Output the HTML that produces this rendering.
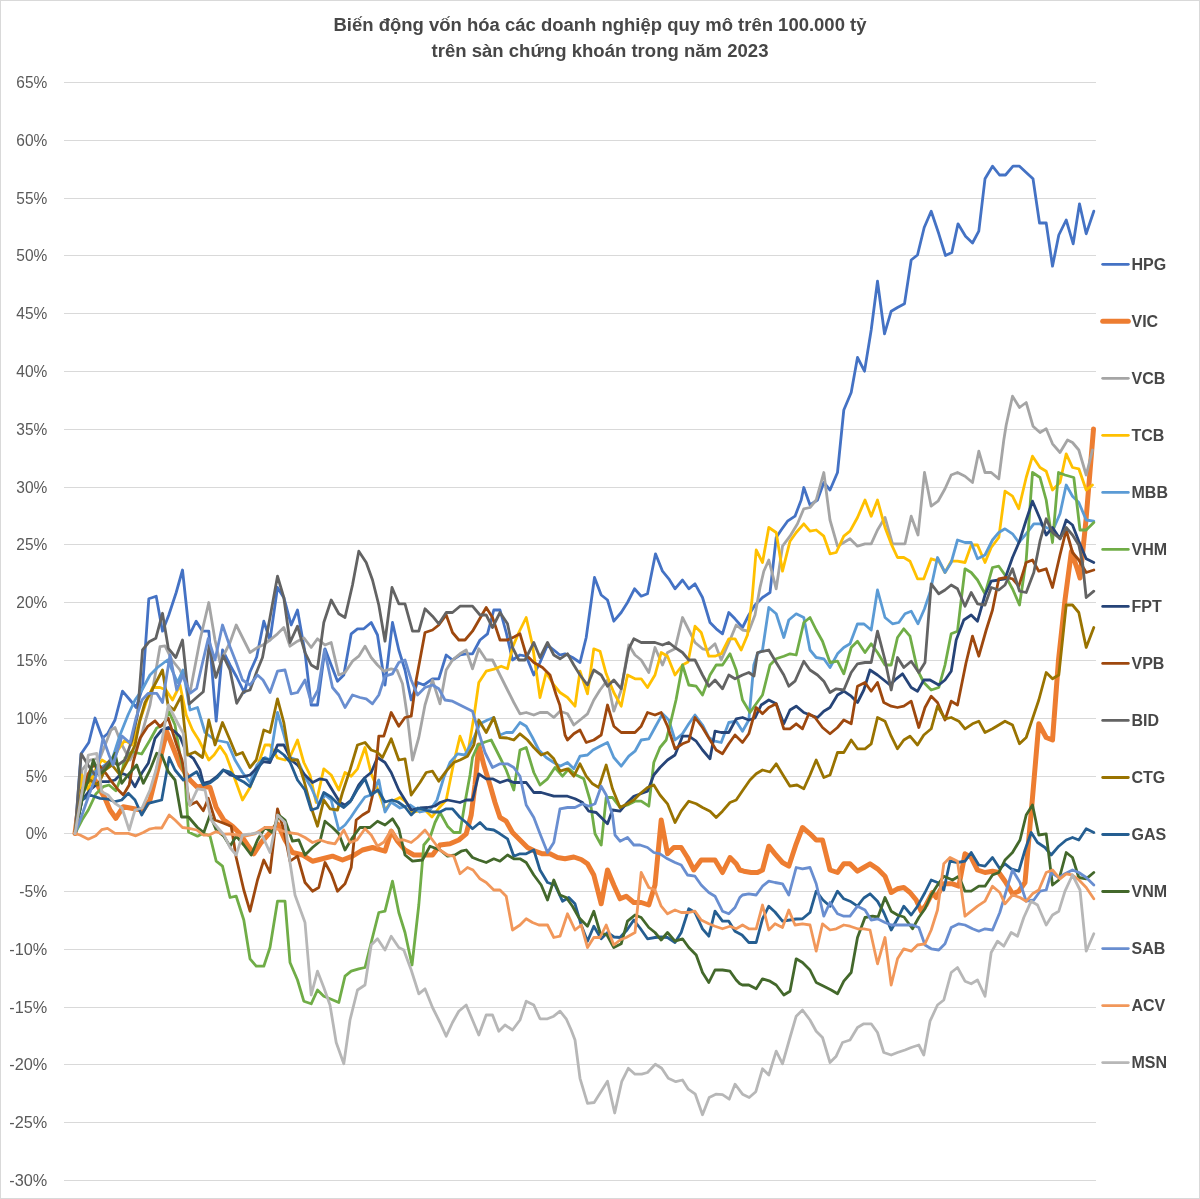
<!DOCTYPE html><html><head><meta charset="utf-8"><title>Biến động vốn hóa</title><style>html,body{margin:0;padding:0;background:#fff;}body{width:1200px;height:1199px;overflow:hidden;}svg{display:block;}</style></head><body>
<svg width="1200" height="1199" viewBox="0 0 1200 1199">
<rect x="0.5" y="0.5" width="1199" height="1198" fill="#fff" stroke="#d9d9d9" stroke-width="1"/>
<g font-family="Liberation Sans, Arial, sans-serif" font-weight="bold" fill="#474747" font-size="17.6">
<text x="333.5" y="30.8" textLength="533" lengthAdjust="spacingAndGlyphs">Biến động vốn hóa các doanh nghiệp quy mô trên 100.000 tỷ</text>
<text x="431.5" y="56.6" textLength="337" lengthAdjust="spacingAndGlyphs">trên sàn chứng khoán trong năm 2023</text>
</g>
<g stroke="#d9d9d9" stroke-width="1">
<line x1="64" x2="1096" y1="82.50" y2="82.50"/>
<line x1="64" x2="1096" y1="140.50" y2="140.50"/>
<line x1="64" x2="1096" y1="198.50" y2="198.50"/>
<line x1="64" x2="1096" y1="255.50" y2="255.50"/>
<line x1="64" x2="1096" y1="313.50" y2="313.50"/>
<line x1="64" x2="1096" y1="371.50" y2="371.50"/>
<line x1="64" x2="1096" y1="429.50" y2="429.50"/>
<line x1="64" x2="1096" y1="487.50" y2="487.50"/>
<line x1="64" x2="1096" y1="544.50" y2="544.50"/>
<line x1="64" x2="1096" y1="602.50" y2="602.50"/>
<line x1="64" x2="1096" y1="660.50" y2="660.50"/>
<line x1="64" x2="1096" y1="718.50" y2="718.50"/>
<line x1="64" x2="1096" y1="776.50" y2="776.50"/>
<line x1="64" x2="1096" y1="833.50" y2="833.50"/>
<line x1="64" x2="1096" y1="891.50" y2="891.50"/>
<line x1="64" x2="1096" y1="949.50" y2="949.50"/>
<line x1="64" x2="1096" y1="1007.50" y2="1007.50"/>
<line x1="64" x2="1096" y1="1064.50" y2="1064.50"/>
<line x1="64" x2="1096" y1="1122.50" y2="1122.50"/>
<line x1="64" x2="1096" y1="1180.50" y2="1180.50"/>
</g>
<g font-family="Liberation Sans, Arial, sans-serif" fill="#595959" font-size="16.6" text-anchor="end">
<text x="47.3" y="87.70" textLength="31" lengthAdjust="spacingAndGlyphs">65%</text>
<text x="47.3" y="145.70" textLength="31" lengthAdjust="spacingAndGlyphs">60%</text>
<text x="47.3" y="203.70" textLength="31" lengthAdjust="spacingAndGlyphs">55%</text>
<text x="47.3" y="260.70" textLength="31" lengthAdjust="spacingAndGlyphs">50%</text>
<text x="47.3" y="318.70" textLength="31" lengthAdjust="spacingAndGlyphs">45%</text>
<text x="47.3" y="376.70" textLength="31" lengthAdjust="spacingAndGlyphs">40%</text>
<text x="47.3" y="434.70" textLength="31" lengthAdjust="spacingAndGlyphs">35%</text>
<text x="47.3" y="492.70" textLength="31" lengthAdjust="spacingAndGlyphs">30%</text>
<text x="47.3" y="549.70" textLength="31" lengthAdjust="spacingAndGlyphs">25%</text>
<text x="47.3" y="607.70" textLength="31" lengthAdjust="spacingAndGlyphs">20%</text>
<text x="47.3" y="665.70" textLength="31" lengthAdjust="spacingAndGlyphs">15%</text>
<text x="47.3" y="723.70" textLength="31" lengthAdjust="spacingAndGlyphs">10%</text>
<text x="47.3" y="781.70" textLength="21.6" lengthAdjust="spacingAndGlyphs">5%</text>
<text x="47.3" y="838.70" textLength="21.6" lengthAdjust="spacingAndGlyphs">0%</text>
<text x="47.3" y="896.70" textLength="28" lengthAdjust="spacingAndGlyphs">-5%</text>
<text x="47.3" y="954.70" textLength="38" lengthAdjust="spacingAndGlyphs">-10%</text>
<text x="47.3" y="1012.70" textLength="38" lengthAdjust="spacingAndGlyphs">-15%</text>
<text x="47.3" y="1069.70" textLength="38" lengthAdjust="spacingAndGlyphs">-20%</text>
<text x="47.3" y="1127.70" textLength="38" lengthAdjust="spacingAndGlyphs">-25%</text>
<text x="47.3" y="1185.70" textLength="38" lengthAdjust="spacingAndGlyphs">-30%</text>
</g>
<g fill="none" stroke-linejoin="round" stroke-linecap="round">
<polyline stroke="#4472C4" stroke-width="2.8" points="75.0,833.6 81.0,754.0 88.8,742.5 95.0,718.0 102.5,738.0 107.5,733.8 115.0,720.0 122.5,691.2 130.0,700.0 136.2,707.5 142.5,687.5 148.8,598.8 156.2,596.2 162.5,631.2 168.8,615.0 176.2,592.5 182.5,570.0 189.5,635.0 196.2,621.2 202.5,631.2 208.8,631.2 216.2,721.2 222.5,650.0 230.0,665.0 236.7,677.0 244.2,692.5 250.0,672.0 256.7,657.0 263.8,621.2 270.0,640.0 277.5,587.5 284.0,598.0 291.2,625.0 297.5,610.0 305.0,652.5 311.2,705.0 317.5,705.0 325.0,648.8 331.2,665.0 337.5,681.2 343.8,675.0 351.2,633.8 357.5,628.8 363.8,628.8 371.2,622.5 377.5,635.0 385.0,685.0 392.5,622.5 398.8,650.0 405.0,670.0 411.2,700.0 417.5,682.5 423.8,685.0 432.5,678.8 438.8,678.8 446.2,655.0 452.5,660.0 460.0,655.0 466.2,653.8 472.5,653.8 480.0,640.0 487.5,633.8 493.8,610.0 500.0,610.0 506.2,632.5 512.5,660.0 520.0,655.0 526.2,656.2 533.8,675.0 540.0,662.5 547.5,645.0 553.8,650.0 559.8,655.0 565.0,653.8 572.5,657.5 580.0,662.5 586.2,637.5 594.5,577.5 601.2,595.0 607.5,600.0 613.8,621.2 621.2,612.5 627.5,602.5 634.5,588.8 641.2,596.2 647.5,593.8 655.5,553.8 662.5,571.2 668.8,578.8 675.0,588.8 682.5,580.0 688.8,588.8 695.0,583.8 702.5,597.5 710.0,622.5 716.2,628.8 722.5,633.8 728.8,612.5 735.0,618.8 742.5,627.5 748.8,615.0 755.0,605.0 762.5,597.5 770.0,592.5 776.2,537.5 781.2,530.0 787.5,521.2 795.0,516.2 801.2,500.0 803.8,487.5 810.0,505.0 817.5,500.0 823.8,482.5 830.0,490.0 837.5,472.5 843.8,410.0 851.2,392.5 857.5,357.5 864.5,371.2 871.2,330.0 877.5,281.2 884.5,333.8 891.2,311.2 897.5,307.5 904.5,303.8 911.2,260.0 917.5,255.0 924.2,227.5 931.2,211.2 938.8,233.8 945.5,255.5 951.8,252.5 958.0,223.8 965.5,236.2 972.5,243.0 978.8,231.2 985.0,178.8 992.5,166.2 999.5,175.0 1005.5,175.0 1013.0,166.2 1019.5,166.2 1026.2,172.5 1033.0,178.8 1039.5,223.0 1046.2,223.0 1052.5,266.2 1058.8,235.0 1066.2,220.0 1073.2,243.8 1079.5,203.8 1086.2,233.8 1093.8,211.2"/>
<polyline stroke="#ED7D31" stroke-width="5" points="75.0,833.6 81.5,785.0 88.0,775.0 95.0,780.0 100.0,790.0 105.0,798.3 110.0,810.0 115.8,818.3 123.3,806.7 130.0,808.0 136.7,809.2 143.0,810.0 150.0,800.0 158.3,766.7 166.7,731.7 172.0,745.0 180.0,765.0 190.0,780.0 197.0,787.0 203.0,786.0 210.0,787.5 216.2,807.5 223.8,820.0 232.5,826.2 240.0,833.8 247.5,845.0 253.8,853.8 261.2,842.5 268.8,833.8 277.5,823.8 285.0,840.0 292.5,852.5 302.5,855.0 312.5,861.2 322.5,858.8 332.5,856.2 342.5,860.0 352.5,856.2 362.5,850.0 372.5,847.5 385.0,851.2 391.2,831.2 397.5,841.2 405.0,850.0 413.8,855.0 422.5,855.0 432.5,855.0 440.0,845.0 450.0,843.8 458.8,840.0 466.2,833.8 471.2,815.0 475.0,785.0 478.8,745.0 483.8,765.0 490.0,785.0 495.0,802.5 500.0,817.5 506.2,821.2 512.5,832.5 520.0,840.0 527.5,847.5 535.0,851.2 542.5,853.8 550.0,853.8 557.5,857.5 565.0,858.8 573.8,857.0 581.2,859.5 587.5,863.8 593.8,875.0 601.2,903.8 607.5,870.0 613.8,885.0 620.0,898.8 626.2,896.2 633.8,902.5 641.2,902.5 648.8,905.0 655.0,885.0 661.2,820.0 667.5,853.8 673.8,847.5 681.2,847.5 687.5,857.5 693.8,870.0 701.2,860.0 708.8,860.0 715.0,860.0 722.5,872.5 730.0,857.5 736.2,863.8 739.8,870.0 743.8,871.2 751.2,872.5 757.5,872.5 762.5,870.0 768.8,846.2 775.0,853.8 782.5,862.5 788.8,866.2 796.2,843.8 802.5,827.5 810.0,833.8 816.2,840.0 822.5,840.0 830.0,870.0 837.5,872.5 843.8,863.8 850.0,863.8 857.5,871.2 863.8,867.5 870.0,863.8 877.5,868.8 885.0,876.2 891.2,892.5 897.5,888.8 903.8,887.5 910.0,892.5 916.2,900.0 921.2,911.2 926.0,905.0 932.5,892.5 936.2,897.5 943.8,883.8 952.5,883.8 958.8,886.2 965.0,853.8 971.2,857.5 977.5,870.0 985.0,872.5 992.5,871.2 998.8,872.5 1005.0,881.2 1012.5,893.8 1018.8,891.2 1025.0,882.5 1032.5,797.5 1038.8,723.8 1046.2,737.5 1052.5,740.0 1058.5,660.0 1065.0,600.0 1071.4,551.6 1077.3,569.0 1080.0,578.0 1086.0,520.0 1093.5,429.0"/>
<polyline stroke="#A5A5A5" stroke-width="2.8" points="75.0,833.6 82.0,770.0 90.0,760.0 100.0,758.0 111.0,730.0 115.0,727.5 122.0,745.0 130.0,760.0 140.0,740.0 150.0,705.0 160.0,646.7 165.0,645.8 172.0,660.0 180.0,670.0 190.0,692.5 200.0,640.0 208.8,602.5 215.0,640.0 220.0,662.5 230.0,642.5 236.2,625.0 242.5,637.5 250.0,652.5 257.5,647.5 263.0,645.0 270.0,640.0 277.5,633.8 283.8,627.5 290.0,646.2 297.5,641.2 304.0,638.0 311.2,647.5 317.5,638.8 325.0,645.0 331.2,642.5 338.8,675.0 345.0,672.5 352.5,661.2 358.8,656.2 365.0,646.2 371.2,657.5 377.5,665.0 383.8,671.2 391.2,668.8 397.0,670.0 402.5,683.8 407.5,717.5 412.5,760.0 418.8,737.5 425.0,705.0 432.5,680.0 440.0,703.8 446.2,670.0 452.5,660.0 460.0,653.8 466.2,650.0 472.5,668.8 478.8,648.8 486.2,660.0 492.5,660.0 500.0,675.0 507.5,690.0 513.8,702.5 520.0,713.8 526.2,712.5 533.8,715.0 540.0,712.5 547.5,712.5 553.8,717.5 560.0,711.2 567.5,713.8 573.8,725.0 580.0,720.0 587.5,713.8 593.8,700.0 600.0,690.0 607.5,680.0 613.8,711.2 621.2,690.0 628.8,645.0 635.0,655.0 641.2,660.0 648.8,672.5 655.0,647.5 662.5,665.0 667.5,652.5 675.0,648.8 682.5,617.5 688.8,630.0 695.0,642.5 702.5,648.8 708.0,650.0 715.0,643.8 721.2,660.0 730.0,640.0 736.2,625.0 742.5,630.0 748.8,631.2 755.0,615.0 760.0,587.5 763.8,571.2 768.8,560.0 776.2,588.8 782.5,546.2 790.0,536.2 797.5,523.8 803.8,508.8 810.0,507.5 816.2,500.0 823.8,472.5 830.0,520.0 837.5,546.2 843.8,542.5 850.0,538.8 857.5,546.2 865.0,543.8 871.2,543.8 877.5,530.0 885.0,517.5 892.5,543.8 898.8,543.8 905.0,543.8 911.2,516.2 918.0,535.0 924.5,472.5 931.2,506.2 938.0,501.2 945.0,488.8 951.2,475.0 957.5,472.5 965.0,476.2 972.5,482.5 978.8,451.2 985.0,472.5 991.2,472.5 998.8,478.8 1003.8,440.0 1006.2,425.0 1012.5,396.2 1019.5,407.5 1026.2,402.5 1033.0,426.2 1040.0,432.5 1046.2,428.8 1052.5,443.8 1060.0,452.5 1067.5,440.0 1072.5,442.5 1078.8,450.0 1086.2,475.0 1092.5,450.0"/>
<polyline stroke="#FFC000" stroke-width="2.8" points="75.0,833.6 82.0,775.0 88.0,790.0 95.0,770.0 102.0,760.0 110.0,765.0 118.0,750.0 125.0,740.0 132.0,745.0 140.0,720.0 147.0,700.0 152.5,687.5 160.0,687.5 166.0,690.0 172.5,700.0 180.0,685.0 186.2,715.0 192.5,730.0 198.8,740.0 208.8,760.0 214.0,755.0 220.0,746.2 226.0,755.0 232.5,772.5 242.5,800.0 250.0,787.5 256.0,770.0 265.0,745.0 270.0,745.0 277.5,758.0 285.0,760.0 290.0,757.0 297.5,740.0 303.8,762.5 310.0,775.0 316.2,802.5 323.8,768.8 331.2,775.0 338.8,790.0 345.0,772.5 351.2,776.2 357.5,768.8 365.0,747.5 371.2,773.8 378.0,790.0 385.0,810.0 391.0,802.0 400.0,797.5 406.0,802.0 412.5,812.5 419.0,811.0 425.0,810.0 432.0,817.0 439.0,808.0 446.2,800.0 453.8,762.5 460.0,736.2 467.5,755.0 473.8,717.5 478.8,682.5 486.2,671.2 495.0,668.8 501.2,666.2 507.5,668.8 512.5,647.5 518.8,632.5 526.2,617.5 532.5,645.0 540.0,697.5 546.2,672.5 553.8,685.0 560.0,692.5 567.5,697.5 575.0,706.2 580.0,671.2 587.5,693.8 593.8,648.8 600.0,651.2 606.2,673.8 613.8,692.5 621.2,706.2 627.5,675.0 635.0,678.8 641.2,678.8 647.5,687.5 655.0,675.0 661.2,652.5 667.5,656.2 675.0,675.0 682.5,665.0 688.0,662.0 695.0,626.2 701.2,632.5 708.8,656.2 715.0,656.2 721.2,653.8 728.8,638.8 735.0,638.8 741.2,650.0 747.5,635.0 752.0,600.0 756.2,550.0 762.5,562.5 768.8,527.5 776.2,532.5 782.5,571.2 790.0,541.2 796.2,532.5 803.8,523.8 810.0,531.2 816.2,530.0 823.8,536.2 830.0,553.8 836.2,552.5 843.8,536.2 850.0,531.2 857.5,517.5 865.0,500.0 871.2,516.2 877.5,500.0 885.0,527.5 891.2,543.8 897.5,557.5 903.8,557.5 910.0,561.2 917.5,578.8 923.8,578.8 931.2,558.8 938.8,561.2 945.0,572.5 951.2,561.2 957.5,561.2 965.0,562.5 971.2,545.0 977.5,545.0 985.0,562.5 991.2,547.5 998.8,537.5 1005.0,491.2 1012.5,496.2 1018.8,508.8 1026.2,477.5 1032.5,456.2 1040.0,467.5 1046.2,471.2 1052.5,490.0 1060.0,482.5 1066.2,453.8 1072.5,467.5 1078.8,468.8 1086.2,490.0 1092.5,485.0"/>
<polyline stroke="#5B9BD5" stroke-width="2.8" points="75.0,833.6 82.0,790.0 90.0,775.0 98.0,770.0 105.0,765.0 112.0,760.0 120.0,735.0 128.0,715.0 135.0,700.0 142.0,690.0 150.0,675.0 157.5,667.5 167.5,660.0 172.0,670.0 177.5,682.5 183.0,670.0 190.0,710.0 197.5,707.5 205.0,732.5 215.0,740.0 227.5,742.5 235.0,760.0 242.5,772.5 250.0,782.5 257.0,765.0 265.0,757.5 270.0,760.0 277.5,712.5 284.0,735.0 290.0,757.5 297.5,760.0 305.0,777.0 311.0,787.0 318.8,805.0 325.0,795.0 331.2,800.0 338.8,830.0 345.0,825.0 351.0,817.0 357.0,808.0 365.0,797.0 371.0,795.0 378.8,780.0 385.0,812.0 391.0,802.0 400.0,808.0 410.0,805.0 420.0,812.0 430.0,810.0 437.0,800.0 443.8,777.5 450.0,762.5 457.5,753.8 465.0,755.0 472.0,742.0 480.0,723.8 487.5,720.0 493.8,717.5 500.0,735.0 506.2,732.5 512.5,732.5 520.0,722.5 526.2,726.2 532.5,737.5 538.8,750.0 546.2,757.5 553.8,762.5 560.0,766.2 567.5,762.5 573.8,768.8 580.0,756.2 587.5,755.0 593.0,750.0 600.0,746.2 607.5,742.5 613.8,757.5 621.2,766.2 628.8,756.2 635.0,751.2 641.2,740.0 648.8,738.8 655.0,727.5 662.5,713.8 668.8,720.0 675.0,740.0 682.5,733.8 688.8,723.8 695.0,715.0 702.5,725.0 708.8,737.5 715.0,741.2 721.2,742.5 728.8,722.5 736.2,721.2 742.5,731.2 748.8,720.0 753.8,665.0 757.5,653.8 762.5,650.0 768.8,607.5 776.2,613.8 783.8,637.5 788.8,620.0 796.2,613.8 803.8,617.5 810.0,650.0 816.2,657.5 823.8,658.8 830.0,667.5 837.5,653.8 843.8,647.5 850.0,643.8 857.5,623.8 864.0,624.0 871.2,630.0 877.5,590.0 885.0,617.5 892.5,623.8 898.8,622.5 905.0,613.8 911.2,611.2 918.0,623.8 924.5,608.8 930.0,592.5 937.5,557.5 945.0,572.5 951.2,562.5 957.5,540.0 965.0,542.5 971.2,542.5 977.5,558.8 985.0,555.0 992.5,540.0 998.8,532.5 1005.0,528.8 1012.5,533.8 1018.8,542.5 1026.2,533.8 1033.8,523.8 1040.0,523.8 1046.2,527.5 1053.0,530.0 1060.0,513.8 1066.2,485.0 1072.5,496.2 1078.8,502.5 1086.2,520.0 1093.8,521.2"/>
<polyline stroke="#70AD47" stroke-width="2.8" points="75.0,833.6 82.0,820.0 88.3,810.0 95.8,794.0 103.3,786.7 109.0,785.0 115.8,790.8 120.0,780.0 125.0,758.0 131.7,751.7 141.7,754.0 150.0,740.0 156.7,728.0 163.3,725.0 169.0,711.7 175.0,725.0 180.0,755.0 185.0,778.0 188.5,832.0 197.5,836.2 203.3,833.3 210.0,836.0 216.2,861.2 222.5,866.2 230.0,897.5 236.2,896.2 243.8,920.0 250.0,958.8 256.2,966.2 263.8,966.2 270.0,947.5 277.5,901.2 285.0,901.2 290.0,962.5 297.5,980.0 303.8,1001.2 311.2,1003.8 317.5,990.0 323.8,996.2 330.0,998.8 338.8,1002.5 345.0,976.2 351.2,971.2 358.8,968.8 365.0,967.5 371.2,942.5 378.8,912.5 385.0,911.2 392.5,881.2 398.8,912.5 405.0,932.5 412.0,965.0 418.8,905.0 423.8,845.0 430.0,837.5 435.0,822.5 440.0,812.5 447.5,826.2 453.8,832.5 460.0,832.5 465.0,802.5 470.0,775.0 472.5,757.5 478.0,745.0 485.0,742.0 491.2,740.0 500.0,757.5 506.2,770.0 513.8,790.0 520.0,750.0 526.2,747.5 533.8,772.5 540.0,785.0 547.5,778.8 555.0,767.5 562.5,776.2 568.8,768.8 576.2,775.0 583.8,778.8 590.0,800.0 595.0,833.8 601.2,845.0 606.2,797.5 612.5,797.5 620.0,807.5 627.5,805.0 635.0,801.2 641.2,801.2 648.8,806.2 653.8,762.5 660.0,747.5 666.2,740.0 670.0,725.0 676.0,700.0 682.5,665.0 688.8,685.0 696.2,686.2 702.5,695.0 710.0,675.0 716.2,665.0 722.5,665.0 730.0,653.8 736.2,670.0 742.5,700.0 750.0,712.5 756.2,703.8 762.5,695.0 770.0,665.0 776.2,658.8 783.8,656.2 790.0,653.8 796.2,655.0 803.8,622.5 810.0,617.5 816.2,630.0 822.5,641.2 830.0,662.5 837.5,661.2 843.8,673.8 851.2,647.5 857.5,641.2 865.0,652.5 871.2,643.8 877.5,652.5 885.0,665.0 891.2,665.0 897.5,637.5 903.8,628.8 910.0,636.2 917.5,670.0 923.8,682.5 931.2,690.0 938.8,687.5 945.0,665.0 951.2,633.8 957.5,631.2 961.2,600.0 965.0,568.8 971.2,572.5 977.5,580.0 985.0,593.8 992.5,567.5 998.8,566.2 1005.0,575.0 1012.5,588.8 1019.5,605.0 1026.2,560.0 1032.5,472.5 1040.0,477.5 1046.2,500.0 1052.5,542.5 1058.5,472.5 1065.0,475.0 1073.8,477.5 1080.0,530.0 1086.2,530.0 1093.8,522.5"/>
<polyline stroke="#264478" stroke-width="2.8" points="75.0,833.6 82.0,800.0 90.0,790.0 100.0,781.7 108.3,781.7 115.0,780.0 121.7,773.3 128.3,775.8 135.0,786.7 141.7,773.3 148.3,763.3 155.0,738.3 161.7,730.0 168.3,727.5 175.0,731.7 180.0,736.7 186.7,753.3 193.3,758.3 200.0,770.0 203.3,783.3 210.0,781.7 216.7,776.7 223.3,770.0 230.0,775.0 236.7,776.7 243.3,776.7 250.0,775.0 256.7,768.3 263.3,761.7 270.0,762.5 277.5,745.0 283.8,745.0 291.2,760.0 297.5,765.0 305.0,775.0 312.5,782.5 320.0,778.8 326.2,780.0 333.8,792.5 340.0,802.5 345.0,805.0 351.2,800.0 358.8,785.0 365.0,777.5 371.2,772.5 377.5,757.5 385.0,762.5 391.2,772.5 398.8,790.0 405.0,800.0 411.2,810.0 420.0,808.0 427.5,807.5 435.0,806.0 440.0,802.5 447.5,800.0 460.0,802.5 466.2,800.0 472.5,800.0 478.8,773.8 486.2,778.8 492.5,778.8 500.0,782.5 507.5,780.0 513.8,782.5 526.2,782.5 533.8,792.5 541.2,792.5 553.8,796.2 567.5,796.2 575.0,798.8 582.5,802.5 588.8,811.2 596.2,812.5 607.5,823.8 612.5,810.0 620.0,811.2 626.2,803.8 633.8,796.2 647.5,791.2 653.8,775.0 660.0,767.5 667.5,760.0 675.0,755.0 682.5,736.2 688.8,736.2 696.2,741.2 702.5,750.0 710.0,758.8 715.0,731.2 721.2,732.5 728.8,732.5 736.2,718.8 742.5,717.5 748.8,720.0 755.0,718.0 761.2,705.0 768.8,700.0 776.2,703.8 783.8,723.8 790.0,710.0 796.2,706.2 803.8,712.5 810.0,715.0 817.5,717.5 823.8,711.2 830.0,707.5 837.5,695.0 843.8,691.2 851.2,696.2 857.5,702.5 863.8,690.0 870.0,670.0 877.5,675.0 883.8,680.0 890.0,685.0 896.2,678.8 902.5,673.8 911.2,687.5 917.5,691.2 923.8,680.0 930.0,680.0 938.8,685.0 945.0,680.0 951.2,671.2 956.2,640.0 963.8,620.0 971.2,615.0 977.5,621.2 985.0,595.0 991.2,581.2 998.8,580.0 1005.0,578.8 1012.5,557.5 1019.5,541.2 1026.2,520.0 1032.5,501.2 1040.0,518.8 1046.2,535.0 1052.5,527.5 1060.0,538.8 1066.2,520.0 1072.5,525.0 1078.8,541.2 1086.2,558.8 1093.8,562.5"/>
<polyline stroke="#9E480E" stroke-width="2.8" points="75.0,833.6 82.0,790.0 88.0,775.0 91.7,766.7 99.2,765.0 105.8,773.3 111.7,781.7 118.3,790.0 123.3,795.0 129.2,785.0 133.3,761.7 140.0,738.3 147.5,726.7 155.0,720.8 160.0,726.7 168.3,718.3 176.7,745.0 182.0,760.0 190.0,805.0 196.7,801.7 203.3,810.8 208.3,798.3 215.0,820.0 223.0,823.0 231.2,826.2 236.2,857.5 243.8,890.0 250.0,911.2 257.5,880.0 263.8,860.0 270.0,872.5 277.5,808.8 283.8,830.0 290.0,861.2 297.5,856.2 305.0,882.5 312.5,891.2 318.8,887.5 325.0,862.5 331.2,873.8 337.5,891.2 345.0,883.8 351.2,867.5 356.2,820.0 362.5,815.0 368.8,811.2 373.8,790.0 378.8,736.2 383.8,736.2 391.2,712.5 398.8,726.2 405.0,717.5 411.2,716.2 416.2,680.0 425.0,632.5 432.5,630.0 438.8,625.0 446.2,615.0 452.5,632.5 458.8,640.0 465.0,640.0 472.5,631.2 479.0,620.0 486.2,607.5 492.5,617.5 500.0,640.0 507.5,640.0 514.0,637.0 520.0,633.8 526.2,655.0 533.8,662.5 542.5,667.5 550.0,675.0 556.2,695.0 559.8,705.0 565.0,735.0 567.5,740.0 573.8,733.8 580.0,730.0 586.2,742.5 593.8,740.0 601.2,735.0 607.5,705.0 613.8,726.2 621.2,732.5 628.8,732.5 635.0,732.5 641.2,726.2 647.5,712.5 655.0,715.0 661.2,712.5 667.5,726.2 675.0,748.8 682.5,743.8 688.8,741.2 695.0,717.5 702.5,727.5 710.0,740.0 716.2,750.0 722.5,753.8 728.8,743.8 735.0,735.0 742.5,742.5 748.8,733.8 756.2,707.5 762.5,713.8 768.8,707.5 776.2,703.8 783.8,728.8 790.0,728.8 796.2,723.8 802.5,728.8 808.8,713.8 815.0,717.5 822.5,727.5 830.0,733.8 837.5,727.5 843.8,720.0 851.2,723.8 857.5,686.2 865.0,682.5 871.2,691.2 877.5,682.5 883.8,702.5 891.2,706.2 897.5,707.5 903.8,706.2 911.2,701.2 918.8,727.5 925.0,707.5 931.2,696.2 937.5,702.5 945.0,720.0 951.2,701.2 957.5,705.0 966.0,663.0 972.5,636.2 978.8,656.2 986.2,630.0 992.5,610.0 998.8,578.8 1006.2,577.5 1012.5,578.8 1018.8,586.2 1026.2,562.5 1032.5,560.0 1038.8,571.2 1046.2,568.8 1052.5,587.5 1060.0,555.0 1066.2,530.0 1072.5,552.5 1078.8,560.0 1086.2,572.5 1093.8,570.0"/>
<polyline stroke="#636363" stroke-width="2.8" points="75.0,833.6 81.2,753.8 88.0,765.0 95.0,775.0 102.0,770.0 110.0,760.0 118.0,765.0 125.0,760.0 132.0,740.0 137.5,715.0 142.5,650.0 149.2,641.7 155.8,638.3 162.5,613.3 168.3,648.3 175.8,657.5 182.5,640.0 189.2,704.0 196.0,698.0 203.3,691.7 209.2,645.0 215.8,677.5 223.3,655.8 230.0,670.0 236.7,703.3 243.3,692.0 250.0,690.0 256.7,671.7 262.5,657.5 270.0,617.5 277.5,576.2 283.8,597.5 290.0,642.5 297.5,626.2 305.0,652.5 311.2,665.0 317.5,668.8 323.8,622.5 331.2,600.0 338.8,613.8 345.0,617.5 352.5,585.0 358.8,551.2 366.2,562.5 372.5,580.0 378.8,605.0 385.0,641.2 392.0,587.5 398.8,603.8 405.0,603.8 412.5,631.2 418.8,631.2 425.0,608.8 432.5,616.2 438.8,623.8 446.2,612.5 452.5,612.5 460.0,606.2 467.5,606.2 472.5,606.2 480.0,615.0 486.2,615.0 492.5,627.5 500.0,612.5 507.5,623.8 512.5,647.5 518.8,660.0 525.0,660.0 533.8,642.5 540.0,657.5 547.5,642.5 553.8,655.0 560.0,658.8 567.5,653.8 573.8,665.0 580.0,675.0 587.5,685.0 593.8,670.0 601.2,675.0 607.5,686.2 613.8,680.0 621.2,688.8 628.8,648.8 633.8,638.8 641.2,642.5 648.8,642.5 655.0,642.5 662.5,645.0 668.8,642.5 675.0,647.5 682.5,652.5 688.8,660.0 695.0,660.0 702.5,675.0 708.8,686.2 715.0,680.0 722.5,688.8 728.8,675.0 735.0,678.8 742.5,675.0 748.8,672.5 754.0,676.0 757.5,652.5 763.8,651.2 768.8,650.0 776.2,662.5 783.8,675.0 788.8,686.2 795.0,681.2 803.8,661.2 810.0,670.0 817.5,675.0 823.8,681.2 830.0,692.5 836.2,688.8 843.8,690.0 851.2,672.5 857.5,663.8 865.0,662.5 871.2,662.5 877.5,631.2 885.0,660.0 891.2,690.0 897.5,657.5 903.8,667.5 911.2,661.2 918.8,672.5 925.0,662.5 931.2,583.8 938.8,593.8 945.0,590.0 951.2,585.0 957.5,588.8 965.0,606.2 971.2,592.5 977.5,603.8 985.0,605.0 991.2,587.5 998.8,590.0 1005.0,585.0 1012.5,568.8 1019.5,591.2 1026.2,592.5 1033.8,572.5 1040.0,541.2 1046.2,518.8 1052.5,532.5 1060.0,538.8 1066.2,527.5 1072.5,535.0 1078.8,545.0 1082.5,562.5 1086.2,597.5 1093.8,591.2"/>
<polyline stroke="#997300" stroke-width="2.8" points="75.0,833.6 82.0,790.0 90.0,780.0 98.0,785.0 105.0,770.0 112.0,765.0 120.0,775.0 128.0,760.0 135.0,745.0 140.0,720.0 145.0,702.5 152.0,690.0 162.5,670.0 168.0,705.0 174.0,710.0 181.2,696.2 187.5,755.0 195.0,752.0 202.5,757.5 208.8,720.0 215.0,745.0 222.5,722.5 230.0,740.0 236.2,755.0 242.5,752.5 250.0,767.5 256.2,760.0 263.8,730.0 270.0,732.5 277.5,698.8 283.8,722.5 290.0,760.0 297.5,760.0 303.8,780.0 311.2,807.5 317.5,826.2 323.8,800.0 330.0,808.8 337.5,810.0 342.5,792.5 350.0,770.0 357.5,745.0 365.0,742.5 371.2,750.0 377.0,752.0 382.5,757.5 391.2,738.8 398.8,760.0 405.0,758.8 411.2,795.0 420.0,782.5 426.2,772.5 432.5,771.2 438.8,781.2 446.2,771.2 453.8,762.5 460.0,760.0 467.5,756.2 473.8,745.0 478.8,720.0 486.2,732.5 493.8,717.5 500.0,737.5 507.0,738.0 513.8,740.0 520.0,733.8 527.5,740.0 533.8,747.5 541.2,755.0 547.5,752.5 553.8,758.8 560.0,771.2 567.5,768.8 573.8,776.2 580.0,763.8 586.2,776.2 592.5,783.8 598.8,787.5 606.2,765.0 612.5,788.8 620.0,807.5 627.5,803.8 633.8,800.0 640.0,793.8 647.5,787.5 653.8,785.0 660.0,795.0 667.5,803.8 675.0,822.5 681.2,811.2 688.8,801.2 696.2,803.8 702.5,807.5 710.0,811.2 716.2,817.5 722.5,811.2 730.0,802.5 736.2,800.0 743.0,790.0 750.0,780.0 756.2,773.8 762.5,770.0 770.0,772.0 776.2,763.8 783.0,775.0 790.0,786.2 797.0,785.0 803.8,788.8 810.0,775.0 816.2,760.0 823.8,777.5 830.0,775.0 837.5,752.5 843.8,752.5 851.2,740.0 857.5,748.8 865.0,748.8 871.2,743.8 877.5,717.5 885.0,721.2 891.2,736.2 897.5,748.8 903.8,740.0 910.0,736.2 917.5,745.0 923.8,735.0 931.2,728.8 937.5,706.2 945.0,718.8 951.2,717.5 958.8,721.2 965.0,728.8 972.5,723.8 978.8,721.2 985.0,732.5 992.5,728.8 998.8,725.0 1005.0,721.2 1012.5,725.0 1019.5,743.8 1026.2,737.5 1032.5,718.8 1038.8,700.0 1046.2,672.5 1052.5,678.8 1058.8,675.0 1066.2,605.0 1072.5,605.0 1078.8,612.5 1086.2,647.5 1093.8,627.5"/>
<polyline stroke="#255E91" stroke-width="2.8" points="75.0,833.6 82.0,800.0 90.0,795.0 100.0,798.3 108.3,799.2 115.0,801.7 121.7,800.0 128.3,793.3 135.0,800.0 141.7,815.0 148.3,803.3 155.0,801.7 161.7,800.0 169.2,757.5 175.0,770.0 183.3,780.0 190.0,776.0 196.7,771.7 203.3,785.0 210.0,783.0 216.7,778.0 223.3,770.0 230.0,772.0 236.7,778.3 243.3,781.7 250.0,786.7 256.7,772.0 263.3,758.3 270.0,760.0 277.5,750.0 284.0,755.0 290.0,762.0 297.5,780.0 305.0,790.0 311.2,810.0 317.5,808.0 323.8,792.5 331.0,797.0 337.0,803.0 343.8,807.5 350.0,802.0 357.0,790.0 365.0,778.8 371.0,795.0 378.0,790.0 385.0,802.0 392.0,800.0 398.0,802.0 405.0,807.0 411.2,815.0 418.0,808.0 425.0,810.0 432.0,812.0 440.0,812.0 446.2,808.8 452.5,808.8 460.0,817.5 466.2,822.5 472.5,828.8 480.0,822.5 486.2,828.8 493.8,830.0 500.0,833.8 507.5,838.8 513.8,856.2 520.0,853.8 526.2,853.8 533.8,850.0 540.0,870.0 547.5,882.5 555.0,885.0 562.5,901.2 568.8,897.5 575.0,903.8 581.2,925.0 587.5,941.2 593.8,926.2 601.2,938.8 607.5,932.5 614.0,937.0 620.0,937.5 627.0,930.0 633.8,920.0 640.0,928.0 647.5,938.8 655.0,937.5 661.0,937.0 667.5,937.5 675.0,942.5 681.2,932.5 688.8,908.8 695.0,912.5 702.5,928.8 708.8,936.2 715.0,911.2 722.5,921.2 728.8,921.2 735.0,931.2 742.0,935.0 748.8,942.5 756.2,942.5 762.5,918.8 768.8,906.2 775.0,912.0 782.5,921.2 790.0,920.0 796.0,919.0 802.5,918.8 810.0,912.5 816.2,891.2 823.0,900.0 830.0,906.2 837.5,891.2 843.8,898.8 850.0,901.2 857.5,906.2 863.8,898.0 870.0,893.8 877.5,901.2 883.8,912.5 891.2,930.0 897.5,918.8 903.8,906.2 911.2,915.0 917.5,906.2 925.0,892.5 931.2,880.0 937.5,882.5 943.8,890.0 950.0,861.2 957.5,862.5 965.0,861.2 971.2,852.5 978.8,865.0 985.0,866.2 992.5,857.5 999.8,868.8 1005.0,863.8 1011.2,868.8 1018.8,871.2 1025.0,850.0 1031.2,832.5 1037.5,842.5 1045.0,847.5 1051.2,855.0 1058.8,846.2 1066.2,840.0 1072.5,837.5 1078.8,840.0 1086.2,828.8 1093.8,832.5"/>
<polyline stroke="#43682B" stroke-width="2.8" points="75.0,833.6 83.3,793.3 88.3,780.0 93.3,760.0 99.2,775.0 105.0,770.0 110.0,763.3 115.0,753.3 121.7,783.3 128.0,775.0 136.7,765.0 143.3,783.3 150.0,770.0 156.7,753.3 161.7,755.0 168.3,771.7 175.0,780.0 181.5,817.0 188.5,817.0 197.5,827.5 203.8,832.5 210.0,815.0 216.2,830.0 223.8,836.2 230.0,846.2 236.2,836.2 243.8,845.0 251.2,855.0 257.5,840.0 265.0,827.5 272.5,832.5 278.8,815.0 285.0,820.0 292.5,841.2 298.8,840.0 305.0,855.0 312.5,847.5 320.0,841.2 325.0,821.2 332.5,827.5 338.8,833.8 345.0,850.0 352.5,837.5 360.0,827.5 370.0,827.5 377.5,821.2 385.0,825.0 392.5,818.8 398.8,828.8 405.0,855.0 412.5,861.2 422.5,860.0 430.0,846.2 440.0,850.0 447.5,856.2 455.0,855.0 461.2,851.2 466.2,850.0 472.5,857.5 478.8,860.0 486.2,862.5 493.8,858.8 500.0,861.2 507.5,855.0 513.8,858.8 520.0,858.8 526.2,862.5 533.8,875.0 541.2,885.0 547.5,900.0 553.8,880.0 560.0,895.0 566.2,897.5 572.5,906.2 578.8,917.5 587.5,926.2 593.8,911.2 600.0,932.5 607.0,935.0 613.8,947.5 621.2,943.8 627.5,921.2 635.0,915.0 641.2,917.5 648.8,927.5 655.0,932.5 661.2,940.0 667.5,932.5 675.0,941.2 682.5,938.8 688.8,947.5 696.2,955.0 702.5,972.5 708.8,982.5 715.0,970.0 722.5,970.0 730.0,971.2 736.2,980.0 739.8,983.8 742.5,985.0 748.8,985.0 756.2,988.8 762.5,978.8 770.0,981.2 776.2,985.0 783.8,995.0 790.0,991.2 796.2,958.8 802.5,962.5 810.0,970.0 816.2,982.5 823.8,986.2 831.2,990.0 837.5,993.8 843.8,981.2 851.2,972.5 857.5,937.5 865.0,917.5 872.5,916.2 878.0,917.0 885.0,897.5 891.2,911.2 897.5,915.0 904.0,917.0 912.5,928.8 918.8,917.5 925.0,908.8 931.2,895.0 937.5,885.0 943.8,876.2 952.5,880.0 958.8,876.2 965.0,891.2 971.2,891.2 978.8,886.2 985.0,886.2 992.5,875.0 998.8,872.5 1005.0,860.0 1012.5,852.5 1020.0,840.0 1026.2,815.0 1032.5,805.0 1038.8,835.0 1046.2,833.8 1052.5,885.0 1058.8,880.0 1066.2,852.5 1072.5,857.5 1078.8,877.5 1086.2,878.8 1093.8,872.5"/>
<polyline stroke="#698ED0" stroke-width="2.8" points="75.0,833.6 82.0,815.0 89.0,795.0 96.0,776.0 103.0,738.0 109.0,755.0 113.0,765.0 122.0,736.0 130.0,743.0 136.0,718.0 142.0,700.0 148.3,693.3 156.7,693.3 162.5,702.5 170.0,655.0 176.7,690.0 183.0,675.0 190.0,693.3 196.7,688.3 202.0,665.0 208.3,638.3 215.0,660.0 222.5,625.0 230.0,646.7 236.2,662.5 242.5,680.0 250.0,685.0 257.5,675.0 263.0,680.0 270.0,692.5 277.5,671.2 285.0,670.0 291.2,693.8 297.5,692.5 305.0,680.0 311.2,702.5 318.0,690.0 324.5,650.0 332.5,687.5 338.8,695.0 345.0,707.5 352.5,695.0 360.0,697.5 366.2,698.8 372.5,703.8 378.8,695.0 385.0,676.2 392.5,673.8 398.8,662.5 405.0,660.0 411.2,680.0 417.5,695.0 425.0,687.5 432.5,685.0 438.8,688.8 445.0,700.0 452.5,701.2 460.0,705.0 466.0,708.0 472.5,711.2 478.8,732.5 485.0,752.5 492.5,767.5 500.0,763.8 507.5,763.8 513.8,767.5 520.0,776.2 526.2,805.0 533.8,817.5 540.0,833.8 547.5,852.5 553.8,842.5 560.0,808.8 567.5,807.5 575.0,807.5 582.5,803.8 588.8,806.2 595.0,803.8 601.2,786.2 606.2,795.0 612.5,815.0 615.0,835.0 620.0,841.2 627.5,837.5 633.8,845.0 640.0,845.0 647.5,847.5 653.8,852.5 660.0,853.8 667.5,858.8 675.0,862.5 681.2,865.0 687.5,875.0 695.0,876.2 701.2,885.0 708.8,892.5 715.0,896.2 722.5,911.2 728.8,913.8 735.0,907.5 739.8,897.5 742.5,895.0 748.8,893.8 756.2,895.0 762.5,886.2 768.8,881.2 775.0,882.5 782.5,883.8 788.8,895.0 796.2,867.5 802.5,868.8 810.0,867.5 816.2,883.8 823.8,916.2 830.0,902.5 837.5,913.8 843.8,916.2 850.0,916.2 857.5,906.2 865.0,910.0 871.2,920.0 877.5,918.8 885.0,922.5 891.2,925.0 897.5,925.0 905.0,925.0 912.5,925.0 918.8,927.5 925.0,945.0 931.2,948.8 938.8,950.0 945.0,943.8 951.2,927.5 958.8,923.8 965.0,925.0 972.5,928.8 978.8,931.2 985.0,928.8 992.5,930.0 999.8,912.5 1005.0,895.0 1012.5,870.0 1020.0,882.5 1026.2,901.2 1033.8,900.0 1040.0,891.2 1046.2,890.0 1051.2,872.5 1058.8,877.5 1065.0,873.8 1072.5,870.0 1078.8,872.5 1086.2,877.5 1093.8,885.0"/>
<polyline stroke="#F1975A" stroke-width="2.8" points="74.2,833.3 80.0,835.0 88.3,839.2 95.8,835.8 101.7,829.7 107.5,828.3 115.0,833.3 121.7,833.3 128.3,833.3 135.8,835.8 143.3,832.5 149.2,829.2 155.0,828.0 161.7,828.0 169.2,815.0 175.0,820.0 182.5,827.5 189.2,828.3 196.7,830.0 203.3,835.0 209.2,835.0 215.8,831.7 223.3,834.2 230.0,834.0 237.0,835.0 245.0,836.2 255.0,833.8 265.0,827.5 272.5,827.5 280.0,830.0 287.5,832.5 297.5,833.8 305.0,837.5 312.5,842.5 320.0,840.0 327.5,842.5 335.0,843.8 343.8,830.0 350.0,842.5 357.0,840.0 365.0,828.8 371.2,835.0 377.5,846.2 384.0,842.0 391.2,830.0 397.5,840.0 404.0,840.0 411.2,842.5 417.5,837.5 425.0,830.0 432.5,840.0 440.0,850.0 447.5,855.0 453.8,856.2 460.0,873.8 467.5,867.5 473.0,870.0 480.0,878.8 486.2,882.5 493.8,890.0 500.0,890.0 506.2,896.2 512.5,930.0 520.0,925.0 526.2,918.8 532.5,922.5 538.8,925.0 547.5,925.0 553.8,937.5 560.0,936.2 567.5,913.8 575.0,930.0 581.2,925.0 587.5,947.5 593.8,937.5 600.0,937.5 606.2,925.0 613.8,945.0 620.0,940.0 626.2,937.5 635.0,932.5 641.2,872.5 648.8,887.5 655.0,890.0 661.2,906.2 667.5,913.8 675.0,910.0 681.2,912.5 688.8,912.5 695.0,911.2 701.2,920.0 708.8,923.8 715.0,926.2 722.5,928.8 730.0,926.2 736.2,928.8 742.5,925.0 748.8,928.8 756.2,928.8 762.5,905.0 768.8,930.0 775.0,923.8 782.5,927.5 788.8,910.0 795.0,925.0 802.5,923.8 810.0,925.0 816.2,951.2 822.5,923.8 830.0,930.0 836.2,928.8 843.8,925.0 850.0,926.2 857.5,928.8 863.8,928.8 870.0,930.0 877.5,963.8 885.0,937.5 891.2,985.0 897.5,958.8 903.8,948.8 911.2,951.2 917.5,945.0 925.0,943.8 931.2,930.0 937.5,910.0 943.8,863.8 950.0,857.5 957.5,861.2 965.0,916.2 971.2,911.2 977.5,906.2 985.0,901.2 992.5,886.2 999.8,892.5 1005.0,903.8 1012.5,895.0 1020.0,897.5 1026.2,901.2 1032.5,893.8 1038.8,890.0 1046.2,872.5 1052.5,870.0 1060.0,878.8 1066.2,873.8 1072.5,875.0 1079.0,880.0 1086.2,887.5 1093.8,898.8"/>
<polyline stroke="#B7B7B7" stroke-width="2.8" points="75.0,833.6 81.0,798.0 88.3,755.0 96.7,753.3 101.7,791.7 108.0,795.0 115.0,803.3 122.0,808.0 129.2,830.0 135.0,810.0 142.0,808.0 150.0,790.0 156.0,770.0 162.0,740.0 168.3,705.0 175.0,718.0 183.3,733.3 188.3,800.0 190.0,805.0 197.5,788.8 205.0,790.0 211.2,820.0 217.5,827.5 224.0,835.0 230.0,847.5 236.2,855.0 242.5,835.0 251.2,833.8 258.8,832.5 262.5,836.2 270.0,852.5 277.5,815.0 285.0,822.5 290.0,862.5 295.0,895.0 305.0,922.5 311.2,995.0 317.5,971.2 323.8,987.5 330.0,1005.0 336.2,1042.5 343.8,1063.8 350.0,1020.0 357.5,990.0 365.0,985.0 371.2,945.0 377.5,938.8 385.0,950.0 391.2,936.2 398.8,947.5 403.8,950.0 411.2,970.0 418.8,993.8 425.0,988.8 432.5,1007.5 440.0,1022.5 446.2,1036.2 452.5,1022.5 458.8,1011.2 466.2,1005.0 472.5,1020.0 478.8,1035.0 486.2,1015.0 492.5,1015.0 498.8,1031.2 505.0,1025.0 512.5,1030.0 520.0,1020.0 526.2,1001.2 533.8,1005.0 540.0,1018.8 547.5,1018.8 553.8,1016.2 560.0,1011.2 566.2,1018.8 571.2,1030.0 575.0,1040.0 580.0,1078.3 587.5,1103.3 594.2,1102.5 607.5,1081.3 614.7,1113.0 621.7,1081.7 628.3,1068.3 635.0,1074.2 641.7,1074.2 647.5,1072.5 655.3,1064.2 661.7,1068.3 668.3,1078.3 675.8,1081.7 682.5,1080.0 688.3,1089.2 695.3,1094.2 702.5,1114.7 709.2,1097.5 715.8,1094.2 722.5,1094.7 729.2,1099.2 735.0,1084.2 742.5,1094.2 749.2,1097.5 755.8,1091.7 762.5,1068.8 768.8,1075.0 776.2,1051.2 782.5,1063.8 790.0,1037.5 796.2,1016.2 802.5,1010.0 810.0,1020.0 816.2,1031.2 822.5,1037.5 830.0,1062.5 836.2,1056.2 842.5,1042.5 850.0,1040.0 857.5,1027.5 863.8,1023.8 871.2,1023.8 877.5,1032.5 883.8,1052.5 891.2,1055.0 897.5,1052.5 905.0,1050.0 911.2,1047.5 918.8,1045.0 923.8,1055.0 930.0,1021.2 937.5,1005.0 943.8,1000.0 951.2,972.5 957.5,967.5 965.0,981.2 971.2,983.8 977.5,980.0 985.0,996.2 991.2,952.5 997.5,941.2 1003.8,946.2 1011.2,932.5 1017.5,936.2 1023.8,917.5 1031.2,901.2 1037.5,905.0 1046.2,925.0 1052.5,915.0 1058.8,911.2 1065.0,891.2 1072.5,875.0 1080.0,890.0 1086.2,951.2 1093.8,933.8"/>
</g>
<g font-family="Liberation Sans, Arial, sans-serif" font-weight="bold" fill="#474747" font-size="16">
<line x1="1102.7" x2="1128.3" y1="264.30" y2="264.30" stroke="#4472C4" stroke-width="2.8" stroke-linecap="round"/>
<text x="1131.5" y="270.10">HPG</text>
<line x1="1102.7" x2="1128.3" y1="321.32" y2="321.32" stroke="#ED7D31" stroke-width="5" stroke-linecap="round"/>
<text x="1131.5" y="327.12">VIC</text>
<line x1="1102.7" x2="1128.3" y1="378.34" y2="378.34" stroke="#A5A5A5" stroke-width="2.8" stroke-linecap="round"/>
<text x="1131.5" y="384.14">VCB</text>
<line x1="1102.7" x2="1128.3" y1="435.36" y2="435.36" stroke="#FFC000" stroke-width="2.8" stroke-linecap="round"/>
<text x="1131.5" y="441.16">TCB</text>
<line x1="1102.7" x2="1128.3" y1="492.38" y2="492.38" stroke="#5B9BD5" stroke-width="2.8" stroke-linecap="round"/>
<text x="1131.5" y="498.18">MBB</text>
<line x1="1102.7" x2="1128.3" y1="549.40" y2="549.40" stroke="#70AD47" stroke-width="2.8" stroke-linecap="round"/>
<text x="1131.5" y="555.20">VHM</text>
<line x1="1102.7" x2="1128.3" y1="606.42" y2="606.42" stroke="#264478" stroke-width="2.8" stroke-linecap="round"/>
<text x="1131.5" y="612.22">FPT</text>
<line x1="1102.7" x2="1128.3" y1="663.44" y2="663.44" stroke="#9E480E" stroke-width="2.8" stroke-linecap="round"/>
<text x="1131.5" y="669.24">VPB</text>
<line x1="1102.7" x2="1128.3" y1="720.46" y2="720.46" stroke="#636363" stroke-width="2.8" stroke-linecap="round"/>
<text x="1131.5" y="726.26">BID</text>
<line x1="1102.7" x2="1128.3" y1="777.48" y2="777.48" stroke="#997300" stroke-width="2.8" stroke-linecap="round"/>
<text x="1131.5" y="783.28">CTG</text>
<line x1="1102.7" x2="1128.3" y1="834.50" y2="834.50" stroke="#255E91" stroke-width="2.8" stroke-linecap="round"/>
<text x="1131.5" y="840.30">GAS</text>
<line x1="1102.7" x2="1128.3" y1="891.52" y2="891.52" stroke="#43682B" stroke-width="2.8" stroke-linecap="round"/>
<text x="1131.5" y="897.32">VNM</text>
<line x1="1102.7" x2="1128.3" y1="948.54" y2="948.54" stroke="#698ED0" stroke-width="2.8" stroke-linecap="round"/>
<text x="1131.5" y="954.34">SAB</text>
<line x1="1102.7" x2="1128.3" y1="1005.56" y2="1005.56" stroke="#F1975A" stroke-width="2.8" stroke-linecap="round"/>
<text x="1131.5" y="1011.36">ACV</text>
<line x1="1102.7" x2="1128.3" y1="1062.58" y2="1062.58" stroke="#B7B7B7" stroke-width="2.8" stroke-linecap="round"/>
<text x="1131.5" y="1068.38">MSN</text>
</g>
</svg></body></html>
